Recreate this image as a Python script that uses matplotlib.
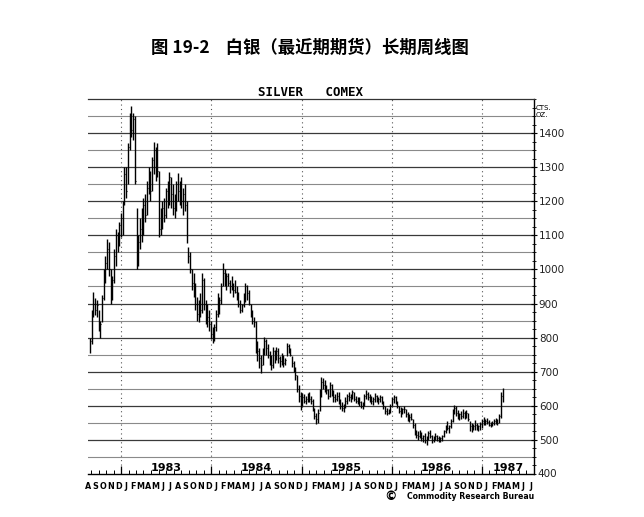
import matplotlib
matplotlib.use('Agg')
import matplotlib.pyplot as plt
import matplotlib.dates as mdates
import numpy as np
import datetime as dt

# weekly bars, silver nearest futures (cents per ounce), week 0 = 1982-08-27
first_week = dt.date(1982, 8, 27)
week_high = [
    800, 880, 935, 915, 910, 880, 850, 925, 1000, 1040,
    1090, 1080, 1000, 980, 1060, 1120, 1110, 1140, 1165, 1200,
    1300, 1300, 1370, 1460, 1480, 1460, 1450, 1180, 1100, 1150,
    1180, 1210, 1220, 1260, 1300, 1290, 1330, 1374, 1360, 1370,
    1290, 1180, 1200, 1210, 1240, 1260, 1286, 1270, 1250, 1220,
    1260, 1283, 1260, 1270, 1240, 1250, 1200, 1065, 1050, 1000,
    990, 960, 920, 910, 930, 990, 975, 910, 900, 880,
    850, 830, 840, 880, 930, 920, 960, 1019, 1000, 990,
    990, 970, 980, 960, 969, 950, 935, 910, 900, 930,
    960, 955, 940, 900, 880, 860, 850, 790, 770, 750,
    770, 802, 795, 780, 760, 750, 773, 765, 773, 770,
    745, 755, 750, 740, 784, 780, 770, 745, 730, 715,
    690, 660, 640, 638, 635, 630, 638, 641, 630, 620,
    595, 580, 590, 650, 685, 682, 675, 660, 650, 670,
    665, 645, 635, 640, 641, 620, 612, 605, 625, 635,
    641, 635, 645, 640, 630, 625, 625, 615, 610, 635,
    645, 640, 635, 628, 625, 638, 632, 625, 632, 630,
    615, 600, 595, 590, 605, 625, 632, 630, 615, 600,
    597, 595, 600, 590, 582, 575, 580, 560, 550, 530,
    525, 529, 522, 515, 520, 510, 525, 530, 515, 510,
    520, 515, 510, 508, 515, 530, 545, 555, 545, 560,
    590, 603, 600, 588, 580, 585, 590, 585, 588, 580,
    555, 550, 548, 558, 550, 545, 552, 560, 567, 562,
    565, 558, 552, 555, 560, 565, 562, 575, 640, 652,
]
week_low = [
    755, 780, 860, 865, 860, 820, 800, 845, 910, 960,
    1000, 980, 900, 910, 960, 1010, 1050, 1070, 1095, 1100,
    1190, 1210, 1250, 1350, 1390, 1380, 1250, 1000, 1010, 1060,
    1080, 1100, 1140, 1160, 1220, 1200, 1230, 1280, 1260, 1270,
    1095, 1100, 1120, 1140, 1150, 1180, 1190, 1180, 1160, 1150,
    1170, 1200, 1190, 1180, 1160, 1170, 1077, 1020, 990, 940,
    920, 880, 850, 846, 860, 872, 880, 840, 831, 820,
    795, 784, 790, 820, 860, 870, 900, 950, 950, 940,
    950, 930, 940, 920, 930, 910, 890, 872, 875, 890,
    905, 910, 895, 860, 840, 831, 755, 730, 710, 697,
    720, 750, 750, 740, 720, 705, 710, 725, 735, 726,
    714, 720, 714, 720, 745, 755, 745, 715, 700, 676,
    640, 610, 588, 600, 608, 605, 610, 612, 605, 585,
    560, 548, 550, 585, 626, 650, 640, 635, 620, 625,
    630, 611, 610, 615, 605, 590, 585, 582, 595, 605,
    615, 612, 620, 615, 608, 605, 600, 594, 590, 600,
    620, 618, 612, 605, 603, 612, 610, 606, 610, 605,
    590, 575, 573, 575, 580, 600, 608, 605, 595, 578,
    567, 575, 580, 568, 555, 553, 558, 535, 515, 506,
    500, 505, 498, 495, 490, 485, 500, 505, 492, 494,
    500, 498, 494, 495, 498, 508, 520, 528, 520, 535,
    553, 575, 570, 560, 558, 562, 565, 560, 565, 555,
    525, 523, 528, 530, 528, 525, 530, 535, 545, 545,
    548, 540, 538, 540, 545, 548, 545, 550, 565, 610,
]
week_close = [
    790, 870, 900, 880, 895, 830, 840, 915, 990, 1020,
    1060, 1000, 930, 970, 1040, 1100, 1080, 1130, 1150, 1190,
    1280, 1230, 1360, 1440, 1410, 1440, 1260, 1020, 1080, 1120,
    1100, 1190, 1160, 1240, 1280, 1230, 1320, 1350, 1300, 1290,
    1120, 1150, 1180, 1160, 1230, 1200, 1270, 1220, 1180, 1200,
    1250, 1230, 1240, 1200, 1220, 1190, 1090, 1040, 1000, 960,
    940, 900, 870, 890, 880, 970, 900, 870, 860, 840,
    810, 800, 830, 870, 900, 910, 950, 990, 960, 980,
    960, 950, 945, 940, 935, 920, 900, 880, 895, 920,
    950, 930, 900, 870, 850, 845, 770, 760, 740, 720,
    760, 790, 770, 750, 740, 720, 760, 740, 760, 740,
    730, 740, 725, 735, 775, 765, 750, 725, 710, 690,
    650, 630, 610, 625, 615, 620, 630, 620, 615, 595,
    570, 560, 580, 640, 670, 660, 650, 645, 630, 660,
    640, 625, 620, 630, 610, 600, 595, 600, 615, 630,
    625, 630, 640, 620, 615, 620, 610, 600, 605, 630,
    635, 625, 620, 615, 620, 630, 615, 620, 625, 612,
    598, 585, 580, 585, 600, 620, 625, 612, 600, 585,
    580, 590, 590, 575, 565, 568, 562, 545, 520, 515,
    510, 520, 505, 510, 500, 505, 520, 510, 500, 505,
    512, 505, 500, 505, 510, 525, 540, 535, 540, 555,
    585, 595, 580, 570, 575, 570, 580, 575, 580, 560,
    540, 535, 540, 545, 535, 540, 548, 555, 560, 555,
    552, 545, 548, 550, 555, 560, 550, 570, 630, 645,
]

years = [1983, 1984, 1985, 1986, 1987]
month_letters = ['J', 'F', 'M', 'A', 'M', 'J', 'J', 'A', 'S', 'O', 'N', 'D']
price_ticks = [500, 600, 700, 800, 900, 1000, 1100, 1200, 1300, 1400]

dates = [first_week + dt.timedelta(days=7 * i) for i in range(len(week_high))]
x = mdates.date2num(dates)

fig = plt.figure(figsize=(6.44, 5.17), dpi=100)
ax = fig.add_axes([0.1366, 0.0832, 0.6925, 0.7253])

x_left = mdates.date2num(dt.date(1982, 8, 19))
x_right = mdates.date2num(dt.date(1987, 8, 1))
ax.set_xlim(x_left, x_right)
ax.set_ylim(400, 1500)

# horizontal grid, heavier at the hundreds
for lvl in range(450, 1500, 50):
    if lvl % 100 == 0:
        ax.axhline(lvl, color='#3a3a3a', lw=0.9, zorder=1)
    else:
        ax.axhline(lvl, color='#8a8a8a', lw=0.8, zorder=1)

# dotted year separators
for yr in years:
    ax.axvline(mdates.date2num(dt.date(yr, 1, 1)), color='#555555', lw=0.8,
               linestyle=(0, (1, 3)), zorder=1)

# weekly high-low bars with close tick
ax.vlines(x, week_low, week_high, color='black', lw=1.0, zorder=3)
ax.hlines(week_close, x, x + 3, color='black', lw=0.8, zorder=3)

# spines
ax.spines['left'].set_visible(False)
ax.spines['top'].set_color('#333333')
ax.spines['top'].set_linewidth(0.9)
ax.spines['bottom'].set_linewidth(1.0)
ax.spines['right'].set_linewidth(1.0)

# right price axis
ax.yaxis.tick_right()
ax.set_yticks(price_ticks)
ax.set_yticklabels([str(p) for p in price_ticks], fontsize=7.5, color='#222222')
ax.set_yticks(np.arange(400, 1501, 25), minor=True)
ax.tick_params(axis='y', which='major', direction='inout', length=5, width=0.8, pad=1)
ax.tick_params(axis='y', which='minor', direction='inout', length=3, width=0.6)
ax.text(1.004, 0.985, 'CTS.\nOZ.', transform=ax.transAxes, fontsize=5,
        va='top', ha='left', linespacing=1.2)
ax.text(1.008, 0.0, '400', transform=ax.transAxes, fontsize=7.5,
        va='center', ha='left', color='#222222')

# month ticks along the bottom
month_starts = []
month_mids = []
month_labels = []
d = dt.date(1982, 8, 1)
while d < dt.date(1987, 8, 1):
    month_starts.append(mdates.date2num(d))
    month_mids.append(mdates.date2num(d + dt.timedelta(days=18)))
    month_labels.append(month_letters[d.month - 1])
    d = dt.date(d.year + (d.month // 12), d.month % 12 + 1, 1)
ax.set_xticks([mdates.date2num(dt.date(yr, 1, 1)) for yr in years])
ax.set_xticklabels([])
ax.set_xticks(month_starts[1:], minor=True)
ax.tick_params(axis='x', which='major', direction='in', length=6, width=0.9)
ax.tick_params(axis='x', which='minor', direction='in', length=3, width=0.7)
for xm, lab in zip(month_mids, month_labels):
    ax.text(xm, -0.022, lab, transform=ax.get_xaxis_transform(),
            fontsize=5.8, fontweight='bold', ha='center', va='top', clip_on=False)

# year labels sitting on the bottom axis
year_pos = [dt.date(1983, 7, 2), dt.date(1984, 7, 2), dt.date(1985, 7, 2),
            dt.date(1986, 7, 2), dt.date(1987, 4, 20)]
for yr, pos in zip(years, year_pos):
    ax.text(mdates.date2num(pos), 402, str(yr), fontsize=8, fontweight='bold',
            ha='center', va='bottom', zorder=4)

ax.set_title('SILVER   COMEX', fontsize=9, fontweight='bold',
             family='DejaVu Sans Mono', pad=2)

fig.text(0.482, 0.907, '图 19-2    白银（最近期期货）长期周线图', fontsize=12.5,
         fontweight='bold', ha='center', va='center',
         family=['Noto Sans CJK SC', 'DejaVu Sans'])

fig.text(0.607, 0.040, '\u00a9', fontsize=9, fontweight='bold', ha='center', va='center')
fig.text(0.632, 0.040, 'Commodity Research Bureau', fontsize=5.6,
         fontweight='bold', ha='left', va='center')

fig.savefig('out.png', dpi=100, facecolor='white')
